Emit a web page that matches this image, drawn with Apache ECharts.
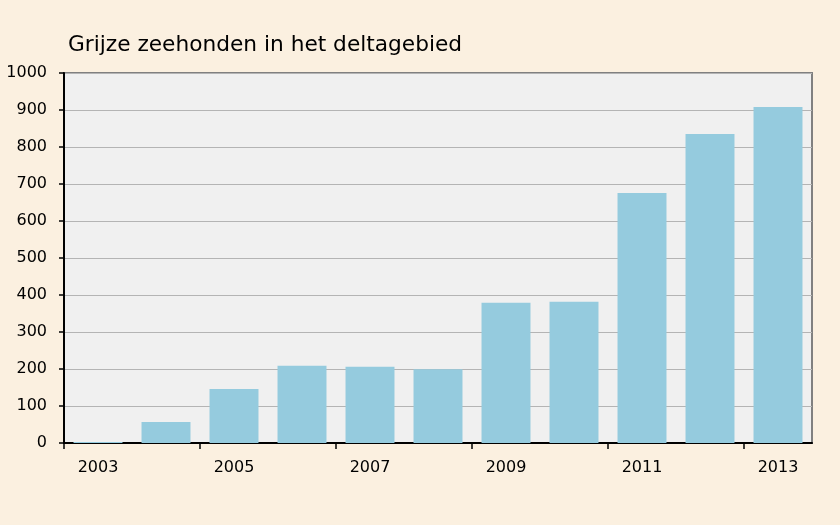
<!DOCTYPE html>
<html>
<head>
<meta charset="utf-8">
<script src="https://cdn.jsdelivr.net/npm/echarts@6/dist/echarts.min.js"></script>
<style>
html,body{margin:0;padding:0;background:#fbf0e0;}
#c{width:840px;height:525px;}
</style>
</head>
<body>
<div id="c"></div>
<script>
var titleText = 'Grijze zeehonden in het deltagebied';
var years = ['2003','2004','2005','2006','2007','2008','2009','2010','2011','2012','2013'];
var counts = [3, 57, 146, 209, 206, 199, 379, 382, 676, 835, 908];
var tickBoundaries = [0, 2, 4, 6, 8, 10];

var chart = echarts.init(document.getElementById('c'));
var font = '"DejaVu Sans"';
chart.setOption({
  backgroundColor: '#fbf0e0',
  animation: false,
  title: {
    text: titleText,
    left: 63,
    top: 29,
    textStyle: {fontFamily: font, fontSize: 21.7, fontWeight: 'normal', color: '#000'}
  },
  grid: {
    left: 64, right: 28, top: 73, bottom: 82,
    show: true, backgroundColor: '#f0f0f0', borderColor: '#808080', borderWidth: 2
  },
  xAxis: [{
    type: 'category',
    data: years,
    boundaryGap: true,
    position: 'bottom',
    axisLine: {lineStyle: {color: '#000', width: 2}},
    axisTick: {show: false},
    axisLabel: {interval: 1, fontFamily: font, fontSize: 16, color: '#000', margin: 17}
  }, {
    type: 'value',
    position: 'bottom',
    min: 0, max: years.length,
    axisLine: {show: false},
    axisTick: {show: true, length: 6, customValues: tickBoundaries, lineStyle: {color: '#000', width: 1.5}},
    axisLabel: {show: false},
    splitLine: {show: false}
  }],
  yAxis: {
    type: 'value',
    min: 0, max: 1000, interval: 100,
    axisLine: {show: true, lineStyle: {color: '#000', width: 2}},
    axisTick: {show: true, length: 5, lineStyle: {color: '#000', width: 1.5}},
    axisLabel: {fontFamily: font, fontSize: 16, color: '#000', margin: 17, formatter: function (v) { return String(v); }},
    splitLine: {lineStyle: {color: '#b4b4b4', width: 1}}
  },
  series: [{
    type: 'bar',
    data: counts,
    barWidth: '72%',
    itemStyle: {color: '#95cbde'}
  }]
});
</script>
</body>
</html>
